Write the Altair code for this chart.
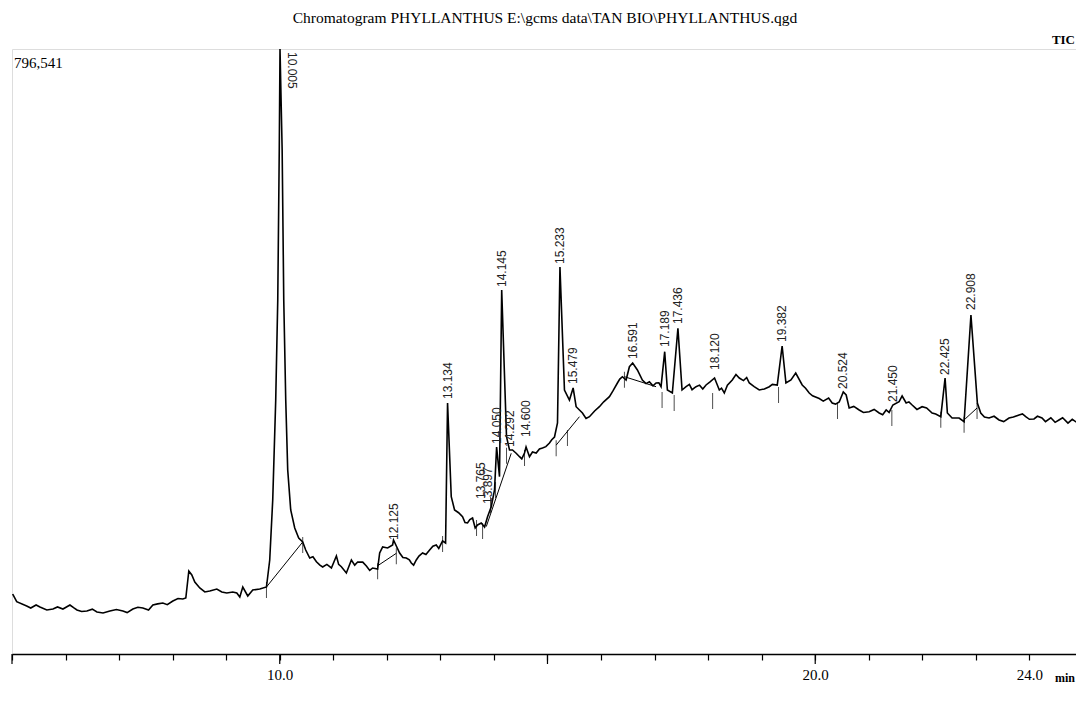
import altair as alt
import pandas as pd

# ---- chromatogram trace (retention time in min, intensity in counts) ----
times = [5.013, 5.088, 5.274, 5.522, 5.765, 5.951, 6.082, 6.213, 6.399, 6.586,
         6.828, 7.071, 7.257, 7.444, 7.631, 7.817, 8.004, 8.190, 8.246, 8.302,
         8.358, 8.414, 8.507, 8.601, 8.694, 8.825, 8.918, 9.011, 9.123, 9.198,
         9.254, 9.310, 9.403, 9.496, 9.627, 9.752, 9.813, 9.869, 9.925, 9.963,
         9.991, 10.005, 10.045, 10.075, 10.112, 10.149, 10.205, 10.280, 10.354, 10.429,
         10.485, 10.560, 10.685, 10.802, 10.965, 11.058, 11.151, 11.244, 11.338, 11.455,
         11.618, 11.735, 11.828, 11.866, 11.922, 12.015, 12.108, 12.125, 12.239, 12.364,
         12.457, 12.550, 12.668, 12.799, 12.923, 13.041, 13.097, 13.134, 13.203, 13.265,
         13.414, 13.507, 13.601, 13.694, 13.763, 13.825, 13.881, 13.950, 14.011, 14.050,
         14.104, 14.145, 14.235, 14.291, 14.347, 14.478, 14.571, 14.600, 14.664, 14.789,
         14.907, 15.037, 15.131, 15.187, 15.233, 15.317, 15.410, 15.479, 15.535, 15.653,
         15.784, 15.970, 16.157, 16.306, 16.399, 16.468, 16.530, 16.591, 16.679, 16.772,
         16.903, 17.028, 17.121, 17.189, 17.239, 17.332, 17.436, 17.513, 17.588, 17.774,
         17.961, 18.120, 18.209, 18.302, 18.451, 18.582, 18.769, 18.955, 19.142, 19.291,
         19.382, 19.453, 19.547, 19.636, 19.757, 19.888, 20.075, 20.317, 20.448, 20.524,
         20.578, 20.634, 20.821, 21.007, 21.194, 21.325, 21.450, 21.567, 21.623, 21.698,
         21.810, 21.996, 22.183, 22.345, 22.425, 22.468, 22.556, 22.687, 22.780, 22.908,
         23.028, 23.091, 23.246, 23.433, 23.619, 23.806, 23.931, 24.086, 24.235, 24.552,
         24.864, 24.981]
intensity = [79000, 68860, 63200, 61880, 59250, 59250, 64510, 57930, 56610, 55300,
             56610, 56610, 59250, 60560, 64510, 67150, 69780, 72410, 73730, 109280,
             104010, 94800, 86900, 81630, 82950, 85580, 81630, 80310, 81630, 80310,
             75050, 88210, 76360, 84260, 85580, 88210, 123760, 202760, 334420, 466080,
             663570, 796541, 663570, 466080, 334420, 242250, 189590, 165890, 152730, 147460,
             136930, 126390, 121520, 114540, 113230, 129030, 114940, 106640, 123760, 121130,
             115860, 113230, 111910, 132980, 140880, 139560, 143510, 150090, 132980, 126390,
             119810, 123760, 132980, 136930, 143510, 148780, 146140, 330470, 207100, 189590,
             180770, 172470, 179060, 169840, 172470, 167210, 180770, 193930, 215920, 272540,
             233430, 479260, 286100, 268590, 268590, 259770, 264640, 272540, 259770, 264640,
             271220, 277800, 285700, 304130, 509520, 347580, 334420, 350220, 325600, 317300,
             312430, 325600, 338760, 356800, 365090, 360750, 378260, 383130, 373920, 360750,
             358510, 356800, 351930, 398010, 347580, 343630, 428820, 347580, 351930, 351930,
             354170, 363380, 347580, 343630, 360750, 363380, 356800, 347580, 351930, 354170,
             405510, 356800, 360750, 369960, 354170, 343630, 336390, 330470, 331780, 344950,
             341000, 323880, 321250, 319010, 317300, 321250, 327830, 332180, 339680, 330470,
             327830, 325600, 317300, 312430, 363380, 317300, 310720, 310720, 305850, 446330,
             330470, 317300, 310720, 308080, 310720, 314670, 312430, 309400, 310720, 308080,
             305850, 304530]

# ---- baseline noise read between the main points ----
noise_times = [5.35, 5.45, 5.65, 5.85, 6.15, 6.30, 6.50, 6.70, 6.95, 7.15, 7.35, 7.55,
               7.72, 7.90, 8.10,
               10.62, 10.75, 10.88, 11.10, 11.40, 11.55, 11.68,
               12.30, 12.42, 12.50, 12.60, 12.73, 12.86, 12.97,
               13.34, 13.46, 13.55, 13.65,
               14.42, 14.52, 14.72, 14.85, 14.97, 15.08,
               15.72, 15.88, 16.05, 16.22, 16.35,
               16.84, 16.97, 17.08,
               17.65, 17.70, 17.84, 17.90, 18.03, 18.25, 18.36, 18.52, 18.66, 18.72,
               18.86, 19.05, 19.20,
               19.82, 19.95, 20.15, 20.25, 20.38,
               20.72, 20.90, 21.10, 21.26, 21.38, 21.75, 21.90, 22.08, 22.25,
               23.16, 23.34, 23.52, 23.70, 23.87, 24.00, 24.15, 24.30, 24.40, 24.48,
               24.62, 24.72, 24.80, 24.93]
noise_intensity = [60560, 64510, 58000, 62000, 61000, 56000, 59000, 54000, 58500, 54500,
                   61500, 58000, 66000, 65000, 73000,
                   128000, 117000, 118000, 118000, 117000, 121000, 110000,
                   127000, 124000, 117000, 129000, 131000, 142000, 139000,
                   186000, 173000, 177000, 166000,
                   264000, 257000, 266000, 270000, 273000, 282000,
                   310000, 320000, 332000, 346000, 362000,
                   356000, 353000, 357000,
                   355000, 348000, 354000, 349000, 358000, 350000, 354000, 368000, 360000,
                   364000, 352000, 349000, 355000,
                   350000, 340000, 333000, 337000, 329000,
                   326000, 318000, 322000, 315000, 318000, 332000, 322000, 324000, 316000,
                   312000, 313000, 306000, 312000, 316000, 309000, 313000, 306000, 311000,
                   305000, 311000, 304000, 309000, 303000]

# ---- peak labels ----
peak_names = ["12.125", "13.134", "13.765", "13.897", "14.050", "14.145", "14.292",
              "14.600", "15.233", "15.479", "16.591", "17.189", "17.436", "18.120",
              "19.382", "20.524", "21.450", "22.425", "22.908"]
peak_times = [12.125, 13.134, 13.765, 13.897, 14.050, 14.145, 14.292,
              14.600, 15.233, 15.479, 16.591, 17.189, 17.436, 18.120,
              19.382, 20.524, 21.450, 22.425, 22.908]
peak_levels = [146140, 331780, 200120, 193540, 272540, 479260, 268590,
               281750, 509520, 351530, 384450, 400250, 430530, 369960,
               406830, 344950, 327830, 363380, 448960]
main_peak_name = "10.005"
main_peak_time = 10.005
max_intensity = 796541

# ---- integration baselines ----
base_t1 = [9.752, 11.822, 13.857, 15.162, 16.437, 22.799]
base_v1 = [88210, 115860, 167750, 275000, 365090, 309400]
base_t2 = [10.429, 12.177, 14.323, 15.597, 17.028, 23.022]
base_v2 = [147460, 132580, 264240, 312430, 351930, 323880]

# ---- peak start / end markers ----
mark_t = [9.752, 10.429, 11.828, 12.177, 13.041, 13.675, 13.788, 13.937, 14.030,
          14.235, 14.571, 15.162, 15.373, 16.437, 17.140, 17.366, 18.084, 19.315,
          20.416, 21.431, 22.345, 22.780, 23.022]
mark_v = [88210, 147460, 113000, 132580, 148780, 170000, 166000, 200000, 220000,
          265000, 262000, 275000, 288340, 365090, 338370, 334420, 337050, 344950,
          323880, 314670, 312430, 305850, 323880]

# ---- axis ----
tick_values = list(range(5, 25))
labelled_ticks = [10, 20, 24]
major_ticks = [5, 10, 15, 20]
x_domain = [5, 24.87]

title_text = "Chromatogram PHYLLANTHUS E:\\gcms data\\TAN BIO\\PHYLLANTHUS.qgd"

trace = pd.concat([pd.DataFrame({"t": times, "v": intensity}),
                   pd.DataFrame({"t": noise_times, "v": noise_intensity})]).sort_values("t")
labels = pd.DataFrame({"name": peak_names, "t": peak_times, "v": peak_levels})
main_label = pd.DataFrame({"name": [main_peak_name], "t": [main_peak_time], "v": [max_intensity]})
baselines = pd.DataFrame({"t1": base_t1, "v1": base_v1, "t2": base_t2, "v2": base_v2})
markers = pd.DataFrame({"t": mark_t, "v": mark_v})
majors = pd.DataFrame({"t": major_ticks})

SERIF = "Liberation Serif"
SANS = "Liberation Sans"

label_expr = " || ".join(f"datum.value == {v}" for v in labelled_ticks)
xscale = alt.Scale(domain=x_domain, nice=False, zero=False)
yscale = alt.Scale(domain=[0, max_intensity], nice=False, zero=False)

x_enc = alt.X("t:Q", scale=xscale, title=None,
              axis=alt.Axis(values=tick_values, labelExpr=f"({label_expr}) ? format(datum.value, '.1f') : ''",
                            tickSize=6, tickColor="black", tickWidth=1.2, domainColor="black",
                            domainWidth=1.5, grid=False, labelFont=SERIF, labelFontSize=15,
                            labelColor="black", labelPadding=7, labelFlush=False))
y_enc = alt.Y("v:Q", scale=yscale, axis=None)

line = alt.Chart(trace).mark_line(color="black", strokeWidth=1.6, strokeJoin="miter", clip=True).encode(
    x=x_enc, y=y_enc, order="t:Q")

base_rules = alt.Chart(baselines).mark_rule(color="black", strokeWidth=1).encode(
    x=alt.X("t1:Q", scale=xscale), y=alt.Y("v1:Q", scale=yscale), x2="t2:Q", y2="v2:Q")

marks = alt.Chart(markers).mark_tick(orient="vertical", color="black", thickness=1, size=16,
                                     yOffset=3).encode(
    x=alt.X("t:Q", scale=xscale), y=alt.Y("v:Q", scale=yscale))

peak_text = alt.Chart(labels).mark_text(angle=270, align="left", baseline="middle", dx=3,
                                        font=SANS, fontSize=12, color="#222222").encode(
    x=alt.X("t:Q", scale=xscale), y=alt.Y("v:Q", scale=yscale), text="name:N")

main_text = alt.Chart(main_label).mark_text(angle=90, align="left", baseline="middle", dx=3, dy=-12,
                                            font=SANS, fontSize=12, color="#222222").encode(
    x=alt.X("t:Q", scale=xscale), y=alt.Y("v:Q", scale=yscale), text="name:N")

major_rules = alt.Chart(majors).mark_rule(color="black", strokeWidth=1.2).encode(
    x=alt.X("t:Q", scale=xscale), y=alt.value(605), y2=alt.value(615))

one = alt.Data(values=[{"a": 1}])
title_mark = alt.Chart(one).mark_text(text=title_text, align="center", baseline="middle",
                                      font=SERIF, fontSize=15.5, color="black").encode(
    x=alt.value(533), y=alt.value(-31))
max_text = alt.Chart(one).mark_text(text=f"{max_intensity:,}", align="left", baseline="middle",
                                    font=SERIF, fontSize=15, color="black").encode(
    x=alt.value(2), y=alt.value(14))
tic_text = alt.Chart(one).mark_text(text="TIC", align="right", baseline="middle",
                                    font=SERIF, fontSize=13, fontWeight="bold", color="black").encode(
    x=alt.value(1063), y=alt.value(-9))
min_text = alt.Chart(one).mark_text(text="min", align="right", baseline="middle",
                                    font=SERIF, fontSize=12, fontWeight="bold", color="black").encode(
    x=alt.value(1063), y=alt.value(629))

chart = alt.layer(line, base_rules, marks, peak_text, main_text, major_rules,
                  title_mark, max_text, tic_text, min_text).properties(
    width=1064, height=605,
    autosize="none",
    padding={"left": 4, "top": 41, "right": 0, "bottom": 33},
).configure_view(stroke="black", strokeWidth=1.5).configure(background="white")

chart.save("out.html", embed_options={"renderer": "svg", "actions": False})
